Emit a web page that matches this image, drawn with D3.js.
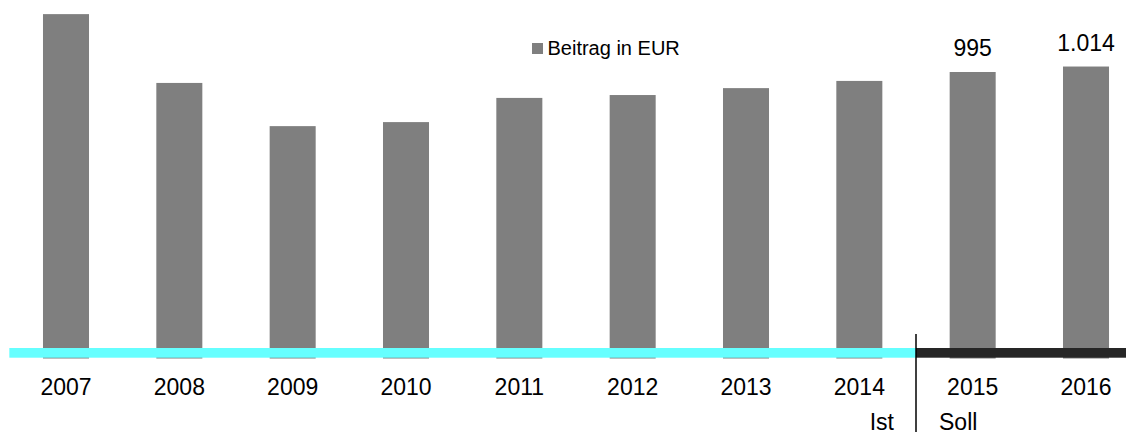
<!DOCTYPE html>
<html>
<head>
<meta charset="utf-8">
<script src="https://cdn.jsdelivr.net/npm/d3@7"></script>
<style>
    html, body { margin: 0; padding: 0; background: #fff; }
    svg { display: block; font-family: "Liberation Sans", Arial, sans-serif; }
</style>
</head>
<body>
<div class="chart-container"></div>
<script>
// values
const years = ["2007", "2008", "2009", "2010", "2011", "2012", "2013", "2014", "2015", "2016"];
const beitrag = [1196, 957, 807, 821, 905, 915, 939, 964, 995, 1014];
const labelledYears = ["2015", "2016"];
const istYears = ["2007", "2008", "2009", "2010", "2011", "2012", "2013", "2014"];
const sollYears = ["2015", "2016"];
const seriesName = "Beitrag in EUR";
const periodLabels = ["Ist", "Soll"];

const width = 1126;
const height = 432;
const baseline = 358.5;

const de = d3.formatLocale({ decimal: ",", thousands: ".", grouping: [3], currency: ["", " €"] });
const fmt = de.format(",.0f");

const svg = d3.select(".chart-container")
    .append("svg")
    .attr("width", width)
    .attr("height", height);

const xScale = d3.scaleBand()
    .domain(years)
    .range([9.33, 1142.67])
    .paddingInner(0.594)
    .paddingOuter(0.297);

const yScale = d3.scaleLinear()
    .domain([0, 1200])
    .range([baseline, baseline - 1200 * 0.28794]);

const data = years.map((year, i) => ({ year, value: beitrag[i] }));

// bars
svg.append("g")
    .selectAll("rect")
    .data(data)
    .join("rect")
    .attr("x", d => xScale(d.year))
    .attr("y", d => yScale(d.value))
    .attr("width", xScale.bandwidth())
    .attr("height", d => yScale(0) - yScale(d.value))
    .attr("fill", "#7f7f7f");

// Ist / Soll bands on the axis line
const split = (xScale(istYears[istYears.length - 1]) + xScale.bandwidth() + xScale(sollYears[0])) / 2;

svg.append("rect")
    .attr("x", xScale.range()[0])
    .attr("y", 348)
    .attr("width", split - xScale.range()[0])
    .attr("height", 9.7)
    .attr("fill", "#66ffff");

svg.append("rect")
    .attr("x", split)
    .attr("y", 348)
    .attr("width", width - split)
    .attr("height", 9.7)
    .attr("fill", "#262626");

svg.append("line")
    .attr("x1", split).attr("x2", split)
    .attr("y1", 334).attr("y2", height)
    .attr("stroke", "#000")
    .attr("stroke-width", 1.5);

// year labels
const xAxis = d3.axisBottom(xScale)
    .tickSize(0)
    .tickPadding(20.2);

const axisG = svg.append("g")
    .attr("transform", `translate(0, ${baseline})`)
    .call(xAxis);
axisG.select(".domain").remove();
axisG.selectAll("text")
    .attr("font-size", 23)
    .attr("font-family", "Liberation Sans, Arial, sans-serif")
    .attr("fill", "#000");

// Ist / Soll
svg.append("text")
    .attr("x", split - 22)
    .attr("y", 429.5)
    .attr("text-anchor", "end")
    .attr("font-size", 23)
    .text(periodLabels[0]);

svg.append("text")
    .attr("x", split + 23)
    .attr("y", 429.5)
    .attr("font-size", 23)
    .text(periodLabels[1]);

// value labels
svg.append("g")
    .selectAll("text")
    .data(data.filter(d => labelledYears.includes(d.year)))
    .join("text")
    .attr("x", d => xScale(d.year) + xScale.bandwidth() / 2)
    .attr("y", d => yScale(d.value) - 16)
    .attr("text-anchor", "middle")
    .attr("font-size", 23)
    .text(d => fmt(d.value));

// legend
const legend = svg.append("g").attr("transform", "translate(532, 43)");
legend.append("rect")
    .attr("width", 11)
    .attr("height", 11)
    .attr("fill", "#7f7f7f");
legend.append("text")
    .attr("x", 15.5)
    .attr("y", 12)
    .attr("font-size", 20)
    .text(seriesName);
</script>
</body>
</html>
